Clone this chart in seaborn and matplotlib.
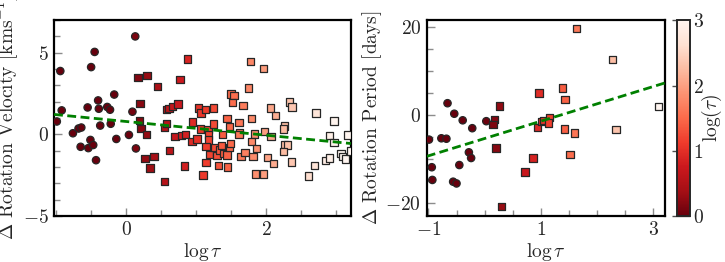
import matplotlib
matplotlib.use("Agg")
import matplotlib.pyplot as plt
import pandas as pd
import seaborn as sns
from matplotlib.ticker import MultipleLocator

# ─────────────────────────────────────────────
#  data
# ─────────────────────────────────────────────
# left panel: delta rotation velocity, circles
vel_circ_logtau = [-0.99, -0.94, -0.92, -0.76, -0.68, -0.64, -0.65, -0.50, -0.55, -0.54,
                   -0.51, -0.47, -0.45, -0.43, -0.40, -0.39, -0.37, -0.27, -0.23, -0.22,
                   -0.17, -0.14, 0.04, 0.09, 0.13, 0.14]
vel_circ_dv = [0.78, 3.87, 1.46, 0.06, 0.35, 0.41, -0.77, 4.11, 1.64, -0.85,
               -0.35, -0.66, 5.04, -1.59, 2.07, 1.56, 0.53, 1.67, 1.50, 0.64,
               2.43, -0.29, -0.04, 1.38, 5.99, -0.87]

# left panel: squares
vel_sq_logtau = [0.17, 0.30, 0.45, 0.20, 0.19, 0.21, 0.29, 0.27, 0.34, 0.40,
                 0.55, 0.55, 0.58, 0.62, 0.58, 0.61, 0.66, 0.74, 0.70, 0.79,
                 0.85, 0.77, 0.88, 0.83, 0.95, 0.94, 1.01, 1.03, 1.07, 1.13,
                 1.25, 1.06, 1.17, 1.25, 1.18, 1.18, 1.14, 1.19, 1.26, 1.30,
                 1.33, 1.36, 1.40, 1.44, 1.48, 1.49, 1.38, 1.10, 1.14, 1.32,
                 1.45, 1.44, 1.48, 1.50, 1.54, 1.52, 1.67, 1.61, 1.62, 1.61,
                 1.64, 1.70, 1.75, 1.78, 1.96, 1.79, 1.83, 1.79, 1.86, 1.81,
                 1.85, 1.96, 1.98, 2.07, 2.02, 2.10, 2.06, 2.13, 2.33, 2.37,
                 2.26, 2.25, 2.26, 2.30, 2.25, 2.36, 2.71, 2.97, 2.60, 2.69,
                 2.85, 2.90, 2.90, 2.97, 3.16, 3.07, 3.09, 3.13, 3.21]
vel_sq_dv = [3.48, 3.58, 2.94, 1.89, 0.84, 0.37, 0.00, -1.50, -2.06, -1.36,
             -2.88, 0.43, 0.64, -1.01, 1.50, 1.57, 1.70, 1.85, -0.15, -0.06,
             -0.02, 3.35, 4.60, -1.94, 0.75, -0.43, -0.30, 1.60, 1.30, 1.50,
             1.60, 0.31, 0.27, 0.62, -0.04, -0.35, -0.74, -1.23, -0.80, -1.32,
             -0.97, -0.70, -1.18, -1.28, -0.80, -0.56, 0.00, -2.49, -1.75, -1.90,
             -2.00, 0.96, 0.49, 2.47, 2.37, 1.94, 1.76, 0.72, 0.12, 0.00,
             -1.37, -1.11, 2.84, 4.47, 4.03, 0.98, 0.02, -0.45, -0.89, -1.36,
             -2.43, -2.43, 0.17, -0.15, -1.42, -1.79, 1.60, 1.14, 1.98, 1.67,
             0.51, 0.33, -0.64, -0.65, -1.06, -1.69, 1.30, 0.82, -2.55, -1.90,
             -1.60, -1.46, -0.06, -0.49, -0.04, -1.17, -1.38, -1.52, -1.03]

# right panel: delta rotation period, circles
per_circ_logtau = [-0.99, -0.94, -0.93, -0.66, -0.77, -0.68, -0.54, -0.45, -0.56, -0.50,
                   -0.39, -0.28, -0.24, -0.22, 0.03]
per_circ_dp = [-5.6, -11.9, -14.8, 2.7, -5.3, -5.4, 0.3, -11.4, -15.2, -15.6,
               -1.2, -8.5, -9.8, -3.0, -1.4]

# right panel: squares
per_sq_logtau = [0.26, 0.18, 0.15, 0.20, 0.30, 0.72, 0.86, 0.94, 0.97, 1.01,
                 1.05, 1.15, 1.14, 1.63, 2.28, 1.39, 1.43, 1.42, 1.60, 1.52,
                 2.34, 3.09]
per_sq_dp = [2.1, -1.0, -2.1, -7.5, -20.9, -13.0, -9.8, -2.8, 5.0, -1.5,
             -1.2, -0.6, -1.8, 19.8, 12.6, 6.2, 3.6, -3.2, -4.1, -9.0,
             -3.3, 1.9]

# linear fits (slope, intercept)
vel_fit = (-0.42, 0.78)
per_fit = (3.95, -5.35)

x_range = (-1.03, 3.21)
cmap = "Reds_r"
c_range = (0, 3)

# ─────────────────────────────────────────────
#  style
# ─────────────────────────────────────────────
sns.set_style("white")
plt.rcParams["font.family"] = "serif"
plt.rcParams["font.serif"] = ["cmr10", "DejaVu Serif"]
plt.rcParams["mathtext.fontset"] = "cm"
plt.rcParams["axes.formatter.use_mathtext"] = True
plt.rcParams["font.size"] = 14

fig = plt.figure(figsize=(7.25, 2.62), dpi=100)
ax_v = fig.add_axes([0.0745, 0.176, 0.4095, 0.748])
ax_p = fig.add_axes([0.5886, 0.176, 0.3286, 0.748])
cax = fig.add_axes([0.9334, 0.176, 0.0184, 0.746])


def draw_panel(ax, circ_x, circ_y, sq_x, sq_y, fit):
    circ = pd.DataFrame({"logtau": circ_x, "delta": circ_y})
    sq = pd.DataFrame({"logtau": sq_x, "delta": sq_y})
    sns.scatterplot(data=circ, x="logtau", y="delta", hue="logtau", palette=cmap,
                    hue_norm=c_range, marker="o", s=28, edgecolor="0.15",
                    linewidth=0.9, legend=False, ax=ax, zorder=3)
    sns.scatterplot(data=sq, x="logtau", y="delta", hue="logtau", palette=cmap,
                    hue_norm=c_range, marker="s", s=28, edgecolor="0.15",
                    linewidth=0.9, legend=False, ax=ax, zorder=3)
    ax.axline((0, fit[1]), slope=fit[0], color="g", ls="--", lw=2,
              dashes=(3.2, 1.6), zorder=4)
    ax.set_xlim(*x_range)
    ax.set_xlabel(r"$\log\tau$", labelpad=1)
    ax.xaxis.set_minor_locator(MultipleLocator(0.5))
    for side in ax.spines.values():
        side.set_linewidth(1.6)
        side.set_color("black")
    ax.tick_params(which="both", direction="in", color="0.55", width=1,
                   bottom=True, left=True, top=False, right=False, pad=4)
    ax.tick_params(which="major", length=6)
    ax.tick_params(which="minor", length=4)


draw_panel(ax_v, vel_circ_logtau, vel_circ_dv, vel_sq_logtau, vel_sq_dv, vel_fit)
ax_v.set_ylim(-5, 7)
ax_v.xaxis.set_major_locator(MultipleLocator(2))
ax_v.yaxis.set_major_locator(MultipleLocator(5))
ax_v.yaxis.set_minor_locator(MultipleLocator(1))
ax_v.set_ylabel(r"$\Delta$ Rotation Velocity [kms$^{-1}$]", labelpad=1)

draw_panel(ax_p, per_circ_logtau, per_circ_dp, per_sq_logtau, per_sq_dp, per_fit)
ax_p.set_ylim(-23, 21.7)
ax_p.set_xticks([-1, 1, 3])
ax_p.yaxis.set_major_locator(MultipleLocator(20))
ax_p.yaxis.set_minor_locator(MultipleLocator(5))
ax_p.set_ylabel(r"$\Delta$ Rotation Period [days]", labelpad=1)

# colour bar
sm = plt.cm.ScalarMappable(cmap=cmap, norm=plt.Normalize(*c_range))
cb = fig.colorbar(sm, cax=cax)
cb.set_ticks([0, 1, 2, 3])
cb.set_label(r"$\log(\tau)$", labelpad=-3)
cb.outline.set_linewidth(1.4)
cb.ax.tick_params(direction="in", length=13, width=1, color="0.3", pad=2)

fig.savefig("out.png", dpi=100)
